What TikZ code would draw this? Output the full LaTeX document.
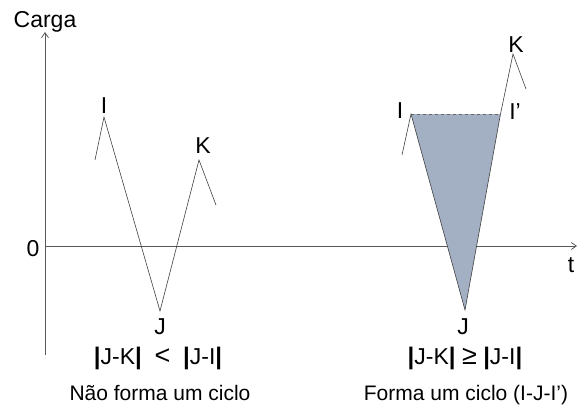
\documentclass[tikz,border=0pt]{standalone}
\usepackage{fontspec}
\setmainfont{Liberation Sans}
\usetikzlibrary{arrows.meta, positioning}
\definecolor{cyclefill}{RGB}{163,176,196}
\newcommand{\absbar}{{\fontsize{24}{24}\selectfont\bfseries|}}
\newcommand{\relsym}[1]{{\fontsize{27}{27}\selectfont#1}}

\begin{document}
\begin{tikzpicture}[x=1pt, y=-1pt, >={Straight Barb[length=5pt, width=7pt]},
    font=\fontsize{21}{25}\selectfont]
  \tikzset{
    axis/.style={->, draw=black!65, line width=0.8pt},
    wave/.style={draw=black!75, line width=0.6pt},
    lbl/.style={inner sep=0pt, anchor=base},
    big/.style={lbl, font=\fontsize{23}{27}\selectfont},
  }
  \useasboundingbox (0,0) rectangle (582,408);

  % Axes
  \coordinate (ybot) at (45,355);
  \coordinate (ytop) at (45,32);
  \coordinate (orig) at (45,246);
  \coordinate (xend) at (577,246);
  \draw[axis] (ybot) -- (ytop);
  \draw[axis] (orig) -- (xend);
  \node[big] (carga) at (45,27) {Carga};
  \node[big] (zero) at (33,256) {0};
  \node[big] (tlbl) at (571,272) {t};

  % No cycle
  \coordinate (a0) at (95,160);
  \coordinate (aI) at (104,117);
  \coordinate (aJ) at (160,311);
  \coordinate (aK) at (199,160);
  \coordinate (a1) at (216,205);
  \draw[wave] (a0) -- (aI) -- (aJ) -- (aK) -- (a1);
  \node[big] (aIlbl) at (104,113) {I};
  \node[big] (aJlbl) at (160,334) {J};
  \node[big] (aKlbl) at (203,153) {K};
  \node[big] (acond) at (158,364) {\absbar J-K\absbar\ \ \relsym{<}\ \ \absbar J-I\absbar};
  \node[lbl] (atext) at (160,400) {Não forma um ciclo};

  % Cycle I-J-I'
  \coordinate (b0) at (402,155);
  \coordinate (bI) at (411,114);
  \coordinate (bJ) at (465,310);
  \coordinate (bIp) at (500.5,114);
  \coordinate (bK) at (513,54);
  \coordinate (b1) at (526,89);
  \fill[cyclefill] (bI) -- (bJ) -- (bIp) -- cycle;
  \draw[black!60, dashed, line width=0.6pt] (bI) -- (bIp);
  \draw[wave] (b0) -- (bI) -- (bJ) -- (bIp) -- (bK) -- (b1);
  \node[big] (bIlbl) at (400,118) {I};
  \node[big] (bIplbl) at (515,119) {I’};
  \node[big] (bJlbl) at (463,334) {J};
  \node[big] (bKlbl) at (516,52) {K};
  \node[big] (bcond) at (465,364) {\absbar J-K\absbar\ \relsym{≥}\ \absbar J-I\absbar};
  \node[lbl] (btext) at (466,400) {Forma um ciclo (I-J-I’)};
\end{tikzpicture}
\end{document}
